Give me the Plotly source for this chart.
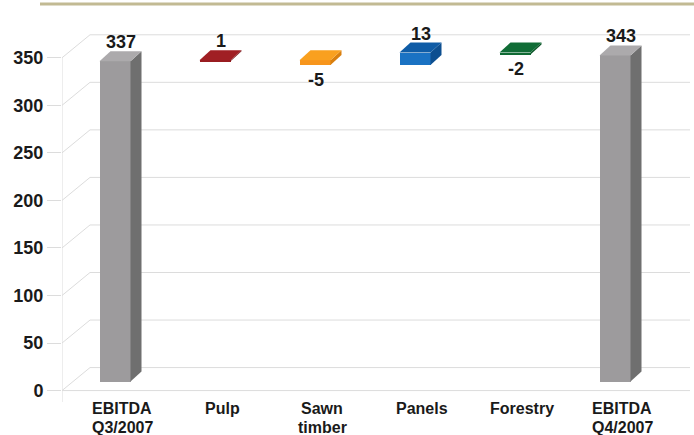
import plotly.graph_objects as go

# ---- data ----
categories = ["EBITDA<br>Q3/2007", "Pulp", "Sawn<br>timber", "Panels", "Forestry", "EBITDA<br>Q4/2007"]
values = [337, 1, -5, 13, -2, 343]
measures = ["absolute", "relative", "relative", "relative", "relative", "absolute"]
value_labels = ["337", "1", "-5", "13", "-2", "343"]
y_ticks = [0, 50, 100, 150, 200, 250, 300, 350]

front_colors = ["#9d9b9d", "#981c20", "#f7951c", "#1a72c3", "#0f6a33", "#9d9b9d"]
top_colors = ["#acaaac", "#a01f24", "#f9a01f", "#0f5ca6", "#106c36", "#acaaac"]
side_colors = ["#6f6f6f", "#6e1216", "#d97f0e", "#0d4f90", "#0a5527", "#6f6f6f"]

# ---- layout geometry ----
W, H = 694, 435
ML, MR, MT, MB = 62, 4, 15, 33
X0, X1 = -0.6, 5.68
Y0, Y1 = -12.0, 395.0
PH = H - MT - MB
ux = (X1 - X0) / (W - ML - MR)       # data units per pixel (x)
uy = (Y1 - Y0) / PH                  # data units per pixel (y)

wall_dx, wall_dy = 28 * ux, 23 * uy   # back wall offset
plane_dx, plane_dy = -7 * ux, 9 * uy  # bar front plane offset
bar_dx, bar_dy = 11 * ux, 10 * uy     # bar depth
bar_w = 31 * ux


def paper_y(px):
    return (H - MB - px) / PH


# waterfall running totals
lows, highs = [], []
running = 0
for v, m in zip(values, measures):
    if m == "absolute":
        lo, hi = 0, v
        running = v
    else:
        lo, hi = min(running, running + v), max(running, running + v)
        running += v
    lows.append(lo)
    highs.append(hi)

xs = [i + plane_dx for i in range(len(categories))]

fig = go.Figure()
fig.add_trace(go.Bar(
    x=xs, y=[h - l for l, h in zip(lows, highs)],
    base=[l + plane_dy for l in lows],
    width=bar_w, marker=dict(color=front_colors, line=dict(width=0)),
    hoverinfo="skip", showlegend=False,
))

shapes = []
grid_col = "#dcdcdc"
for v in y_ticks:
    shapes.append(dict(type="line", xref="x", yref="y", x0=X0 + wall_dx, x1=X1,
                       y0=v + wall_dy, y1=v + wall_dy, line=dict(color=grid_col, width=1), layer="below"))
    shapes.append(dict(type="line", xref="x", yref="y", x0=X0, x1=X0 + wall_dx,
                       y0=v, y1=v + wall_dy, line=dict(color=grid_col, width=1), layer="below"))
shapes.append(dict(type="line", xref="x", yref="y", x0=X0, x1=X1, y0=0, y1=0,
                   line=dict(color=grid_col, width=1), layer="below"))
shapes.append(dict(type="line", xref="x", yref="y", x0=X0, x1=X0, y0=Y0, y1=y_ticks[-1],
                   line=dict(color=grid_col, width=1), layer="below"))

for i in range(len(categories)):
    xl = xs[i] - bar_w / 2
    xr = xs[i] + bar_w / 2
    lo = lows[i] + plane_dy
    hi = highs[i] + plane_dy
    top = (f"M {xl},{hi} L {xr},{hi} L {xr + bar_dx},{hi + bar_dy} "
           f"L {xl + bar_dx},{hi + bar_dy} Z")
    side = (f"M {xr},{lo} L {xr},{hi} L {xr + bar_dx},{hi + bar_dy} "
            f"L {xr + bar_dx},{lo + bar_dy} Z")
    shapes.append(dict(type="path", xref="x", yref="y", path=side,
                       fillcolor=side_colors[i], line=dict(width=0), layer="above"))
    shapes.append(dict(type="path", xref="x", yref="y", path=top,
                       fillcolor=top_colors[i], line=dict(width=0), layer="above"))

# header rule
shapes.append(dict(type="line", xref="paper", yref="paper", x0=-(ML - 40) / (W - ML - MR), x1=1.01,
                   y0=paper_y(4), y1=paper_y(4), line=dict(color="#c2ba93", width=3)))

font_family = "Liberation Sans, Arial, sans-serif"
txt_col = "#1a1a1a"
annotations = []
for i in range(len(categories)):
    if measures[i] == "relative" and values[i] < 0:
        annotations.append(dict(x=xs[i] + 0.5 * ux, y=lows[i] + plane_dy, xref="x", yref="y",
                                text=f"<b>{value_labels[i]}</b>", showarrow=False,
                                yanchor="top", yshift=-3,
                                font=dict(size=18, color=txt_col, family=font_family)))
    else:
        annotations.append(dict(x=xs[i] + bar_dx / 2, y=highs[i] + plane_dy + bar_dy, xref="x", yref="y",
                                text=f"<b>{value_labels[i]}</b>", showarrow=False,
                                yanchor="bottom", yshift=-3,
                                font=dict(size=18, color=txt_col, family=font_family)))
    # category labels, one annotation per line
    for j, line in enumerate(categories[i].split("<br>")):
        annotations.append(dict(x=i, y=paper_y(408 + 19 * j), xref="x", yref="paper",
                                text=f"<b>{line}</b>", showarrow=False, yanchor="middle",
                                font=dict(size=16, color=txt_col, family=font_family)))

fig.update_layout(
    width=W, height=H,
    margin=dict(l=ML, r=MR, t=MT, b=MB),
    paper_bgcolor="white", plot_bgcolor="white",
    shapes=shapes, annotations=annotations,
    bargap=0,
    xaxis=dict(range=[X0, X1], showticklabels=False,
               showgrid=False, zeroline=False, showline=False, ticks="",
               fixedrange=True),
    yaxis=dict(range=[Y0, Y1], tickvals=y_ticks, ticktext=[f"<b>{t}</b>" for t in y_ticks],
               showgrid=False, zeroline=False, showline=False,
               ticks="outside", ticklen=14, tickcolor=grid_col, tickwidth=1,
               ticklabelstandoff=0,
               tickfont=dict(size=18, color=txt_col, family=font_family),
               fixedrange=True),
)

fig.write_html("out.html", config={"displayModeBar": False},
               post_script="document.body.style.margin='0';")
